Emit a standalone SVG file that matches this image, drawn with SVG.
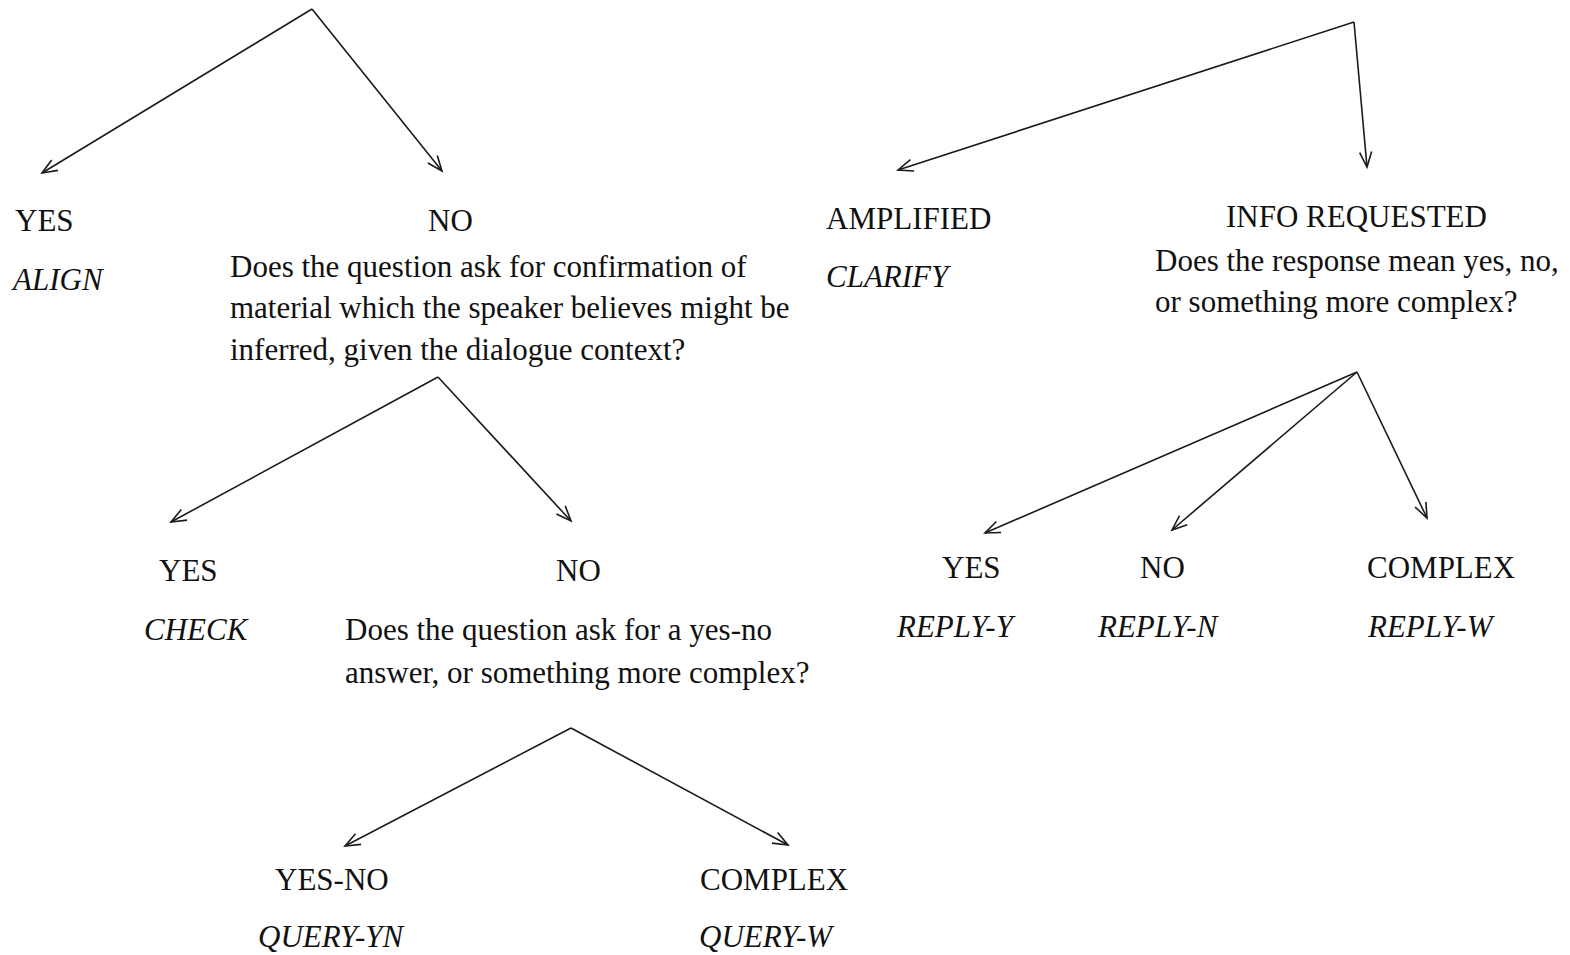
<svg xmlns="http://www.w3.org/2000/svg" width="1570" height="955" viewBox="0 0 1570 955">
<style>
text{font-family:"Liberation Serif","Times New Roman",serif;font-size:31px;fill:#111}
.it{font-style:italic}
.c line{stroke:#1a1a1a;stroke-width:1.6;fill:none;marker-end:url(#ah)}
</style>
<defs>
<marker id="ah" markerUnits="userSpaceOnUse" viewBox="-16 -8 18 16" markerWidth="18" markerHeight="16" refX="0" refY="0" orient="auto" overflow="visible">
<path d="M-15,-6 L0,0 L-15,6" fill="none" stroke="#1a1a1a" stroke-width="1.6"/>
</marker>
</defs>
<g id="connectors" class="c">
<line x1="312" y1="9" x2="42" y2="173"/>
<line x1="312" y1="9" x2="442" y2="171"/>
<line x1="1354" y1="22" x2="898" y2="170"/>
<line x1="1354" y1="22" x2="1367" y2="167"/>
<line x1="438" y1="377" x2="171" y2="522"/>
<line x1="438" y1="377" x2="571" y2="521"/>
<line x1="1357" y1="372" x2="985" y2="533"/>
<line x1="1357" y1="372" x2="1172" y2="530"/>
<line x1="1357" y1="372" x2="1427" y2="518"/>
<line x1="571" y1="728" x2="345" y2="846"/>
<line x1="571" y1="728" x2="788" y2="845"/>
</g>
<g id="n-yes-align"><text x="15" y="231">YES</text><text class="it" x="13" y="290">ALIGN</text></g>
<g id="n-no-confirm"><text x="428" y="231">NO</text>
<text x="230" y="277">Does the question ask for confirmation of</text>
<text x="230" y="318">material which the speaker believes might be</text>
<text x="230" y="360">inferred, given the dialogue context?</text></g>
<g id="n-amplified"><text x="826" y="229">AMPLIFIED</text><text class="it" x="826" y="287">CLARIFY</text></g>
<g id="n-info"><text x="1226" y="227">INFO REQUESTED</text>
<text x="1155" y="271">Does the response mean yes, no,</text>
<text x="1155" y="312">or something more complex?</text></g>
<g id="n-yes-check"><text x="159" y="581">YES</text><text class="it" x="144" y="640">CHECK</text></g>
<g id="n-no-yesno"><text x="556" y="581">NO</text>
<text x="345" y="640">Does the question ask for a yes-no</text>
<text x="345" y="683">answer, or something more complex?</text></g>
<g id="n-reply-y"><text x="942" y="578">YES</text><text class="it" x="897" y="637">REPLY-Y</text></g>
<g id="n-reply-n"><text x="1140" y="578">NO</text><text class="it" x="1098" y="637">REPLY-N</text></g>
<g id="n-reply-w"><text x="1367" y="578">COMPLEX</text><text class="it" x="1368" y="637">REPLY-W</text></g>
<g id="n-query-yn"><text x="275" y="890">YES-NO</text><text class="it" x="258" y="947">QUERY-YN</text></g>
<g id="n-query-w"><text x="700" y="890">COMPLEX</text><text class="it" x="699" y="947">QUERY-W</text></g>
</svg>
